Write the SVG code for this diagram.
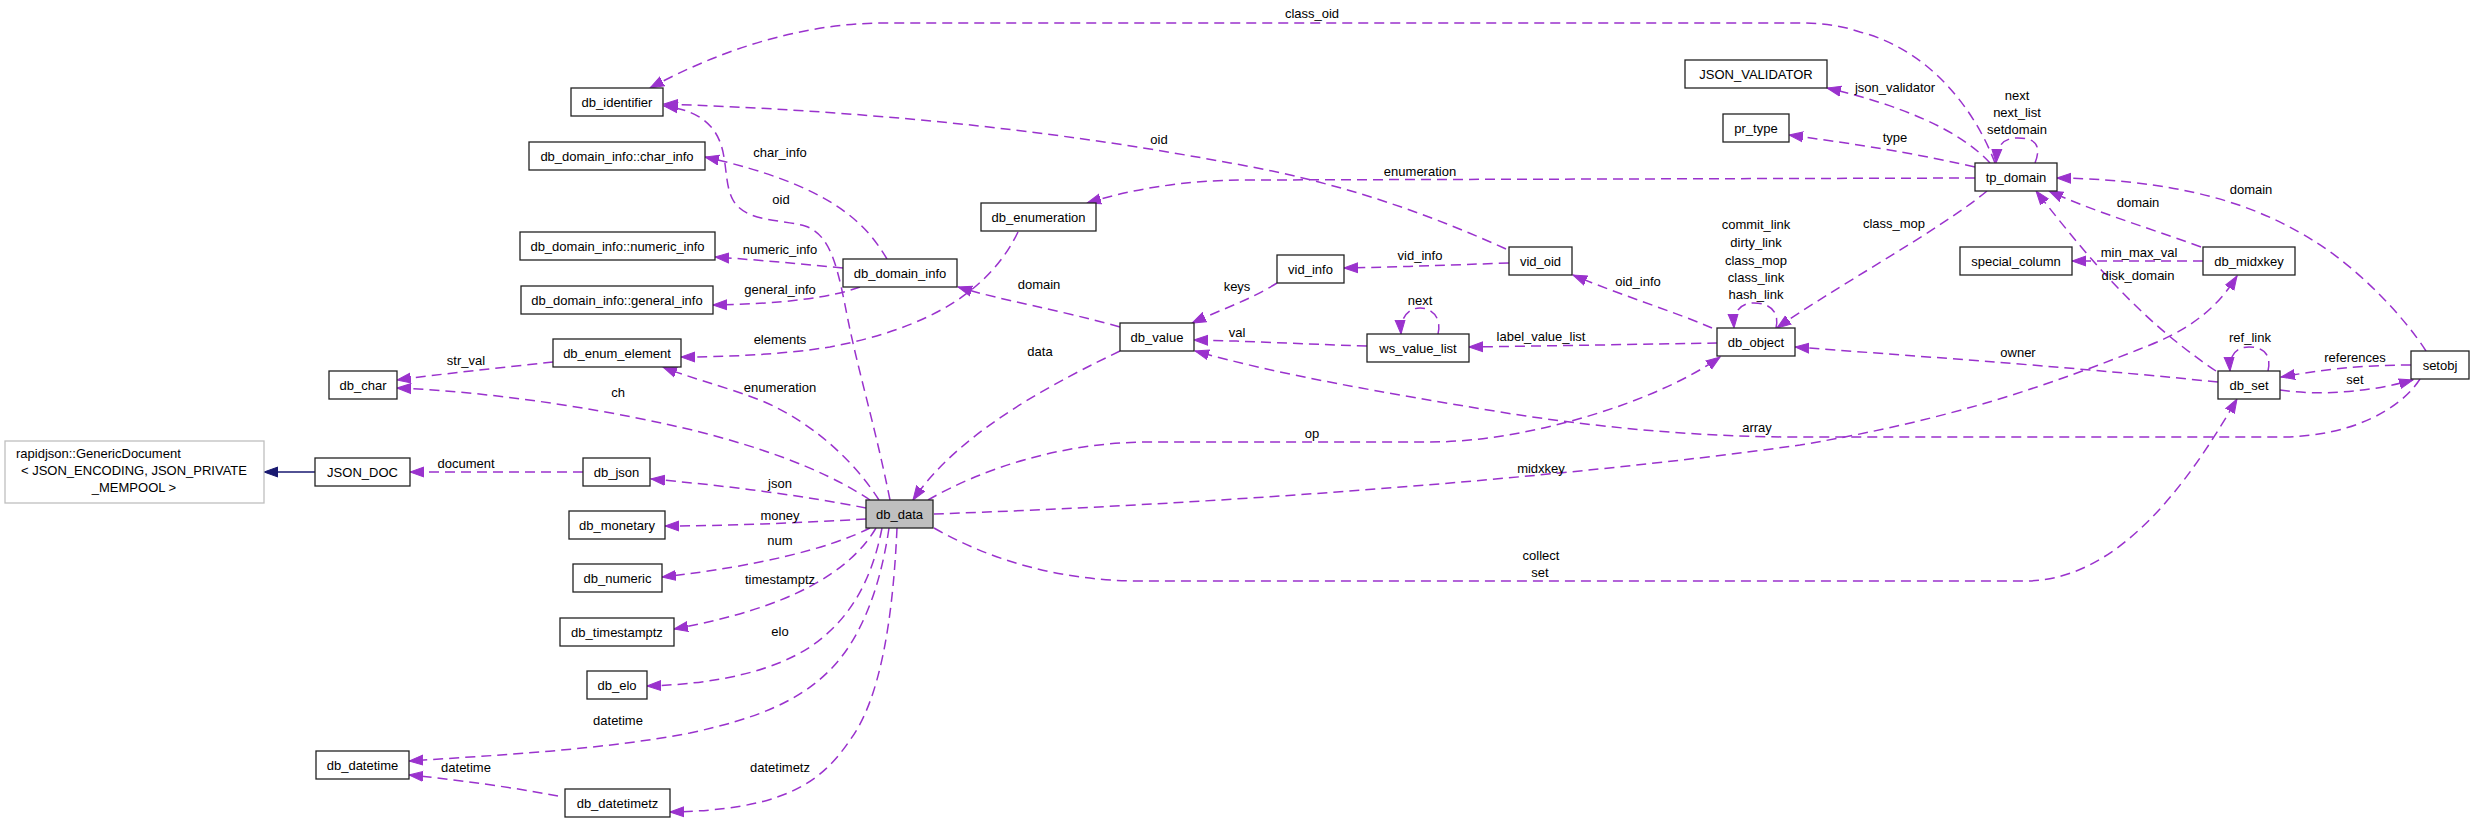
<svg xmlns="http://www.w3.org/2000/svg" width="2475" height="824" viewBox="0 0 2475 824">
<defs>
<style>
.n rect{fill:#fff;stroke:#222;stroke-width:1.3}
.n text,.l{font-family:"Liberation Sans",Arial,Helvetica,sans-serif;font-size:13px;fill:#000;text-anchor:middle}
.e path{fill:none;stroke:#9a32cd;stroke-width:1.5;stroke-dasharray:10,6;marker-end:url(#a)}
.e path.inh{stroke:#191970;stroke-dasharray:none;marker-end:url(#b)}
</style>
<marker id="a" markerWidth="15" markerHeight="12" refX="14" refY="6" orient="auto" markerUnits="userSpaceOnUse"><path d="M0,1 L14,6 L0,11 z" fill="#9a32cd" stroke="#9a32cd" stroke-width="1"/></marker>
<marker id="b" markerWidth="15" markerHeight="12" refX="14" refY="6" orient="auto" markerUnits="userSpaceOnUse"><path d="M0,1 L14,6 L0,11 z" fill="#191970" stroke="#191970" stroke-width="1"/></marker>
</defs>
<rect width="2475" height="824" fill="#fff"/>
<g id="connectors" class="e">
<path d="M1995,163 C1975,110 1930,50 1860,32 C1840,25 1820,23 1800,23 L880,23 C800,24 720,50 650,88"/>
<path d="M890,500 C876,430 858,370 848,320 C838,270 832,235 805,226 C780,219 745,222 733,200 C722,180 730,150 712,128 C700,114 685,109 664,106"/>
<path d="M1506,249 C1420,210 1330,180 1230,163 C1080,135 900,112 664,104"/>
<path d="M887,259 C865,222 830,185 705,157"/>
<path d="M843,268 C800,264 760,260 715,257"/>
<path d="M860,287 C830,298 780,304 713,305"/>
<path d="M1018,232 C990,290 930,328 830,347 C780,355 720,357 681,357"/>
<path d="M879,500 C860,470 820,425 760,400 C720,385 690,378 663,367"/>
<path d="M553,362 C500,368 440,374 397,380"/>
<path d="M870,500 C840,480 790,455 700,432 C620,412 500,392 397,388"/>
<path d="M583,472 L410,472"/>
<path class="inh" d="M315,472 L264,472"/>
<path d="M866,508 C800,495 720,485 651,479"/>
<path d="M866,519 C800,523 720,526 665,526"/>
<path d="M870,528 C830,548 760,566 662,577"/>
<path d="M876,528 C850,572 790,608 674,629"/>
<path d="M882,528 C872,580 850,620 810,647 C775,670 720,684 647,686"/>
<path d="M889,528 C880,590 860,640 830,670 C800,700 760,718 690,733 C600,750 500,755 409,761"/>
<path d="M558,796 C510,787 460,780 409,775"/>
<path d="M897,528 C893,620 880,700 850,740 C820,785 780,810 670,812"/>
<path d="M1120,327 C1060,310 1000,300 958,287"/>
<path d="M1120,351 C1060,380 960,430 913,500"/>
<path d="M1277,283 C1250,300 1220,310 1192,323"/>
<path d="M1509,263 C1450,265 1400,267 1344,268"/>
<path d="M1438,334 C1442,318 1432,308 1420,308 C1408,308 1400,318 1401,334"/>
<path d="M1367,346 C1300,344 1250,341 1194,340"/>
<path d="M1717,343 C1650,344 1550,346 1469,347"/>
<path d="M1712,328 C1670,310 1620,295 1573,275"/>
<path d="M1975,178 L1250,180 C1180,180 1130,190 1087,203"/>
<path d="M1990,163 C1960,130 1900,105 1827,88"/>
<path d="M1975,167 C1900,150 1840,142 1789,135"/>
<path d="M2035,163 C2042,145 2035,138 2018,138 C2003,138 1997,145 1996,163"/>
<path d="M1987,191 C1940,230 1830,290 1777,328"/>
<path d="M1776,328 C1780,310 1768,303 1754,303 C1740,303 1733,312 1734,328"/>
<path d="M2203,261 L2072,261"/>
<path d="M2201,247 C2140,225 2090,210 2049,191"/>
<path d="M2216,371 C2140,320 2090,260 2036,191"/>
<path d="M2426,351 C2405,318 2360,270 2317,243 C2270,213 2200,180 2057,178"/>
<path d="M2268,371 C2272,353 2262,347 2249,347 C2236,347 2229,355 2230,371"/>
<path d="M2411,365 C2360,365 2320,370 2281,377"/>
<path d="M2280,390 C2320,396 2370,392 2413,380"/>
<path d="M2218,382 C2050,365 1900,355 1795,347"/>
<path d="M928,500 C980,470 1060,442 1150,442 L1430,442 C1530,442 1660,400 1720,357"/>
<path d="M934,514 C1200,505 1550,480 1800,445 C1950,420 2050,385 2150,345 C2200,325 2222,300 2237,276"/>
<path d="M2420,379 C2400,410 2350,437 2280,437 L1800,437 C1700,437 1600,428 1500,412 C1380,392 1280,375 1195,351"/>
<path d="M934,528 C990,560 1060,581 1140,581 L2025,581 C2120,581 2190,480 2237,399"/>
</g>
<g id="labels">
<text class="l" x="1312" y="18">class_oid</text>
<text class="l" x="781" y="204">oid</text>
<text class="l" x="1159" y="144">oid</text>
<text class="l" x="780" y="157">char_info</text>
<text class="l" x="780" y="254">numeric_info</text>
<text class="l" x="780" y="294">general_info</text>
<text class="l" x="780" y="344">elements</text>
<text class="l" x="780" y="392">enumeration</text>
<text class="l" x="1420" y="176">enumeration</text>
<text class="l" x="466" y="365">str_val</text>
<text class="l" x="618" y="397">ch</text>
<text class="l" x="466" y="468">document</text>
<text class="l" x="780" y="488">json</text>
<text class="l" x="780" y="520">money</text>
<text class="l" x="780" y="545">num</text>
<text class="l" x="780" y="584">timestamptz</text>
<text class="l" x="780" y="636">elo</text>
<text class="l" x="618" y="725">datetime</text>
<text class="l" x="466" y="772">datetime</text>
<text class="l" x="780" y="772">datetimetz</text>
<text class="l" x="1039" y="289">domain</text>
<text class="l" x="1040" y="356">data</text>
<text class="l" x="1237" y="291">keys</text>
<text class="l" x="1420" y="260">vid_info</text>
<text class="l" x="1420" y="305">next</text>
<text class="l" x="1237" y="337">val</text>
<text class="l" x="1541" y="341">label_value_list</text>
<text class="l" x="1638" y="286">oid_info</text>
<text class="l" x="1895" y="92">json_validator</text>
<text class="l" x="2017" y="100">next</text>
<text class="l" x="2017" y="117">next_list</text>
<text class="l" x="2017" y="134">setdomain</text>
<text class="l" x="1895" y="142">type</text>
<text class="l" x="2251" y="194">domain</text>
<text class="l" x="2138" y="207">domain</text>
<text class="l" x="1894" y="228">class_mop</text>
<text class="l" x="1756" y="229">commit_link</text>
<text class="l" x="1756" y="247">dirty_link</text>
<text class="l" x="1756" y="265">class_mop</text>
<text class="l" x="1756" y="282">class_link</text>
<text class="l" x="1756" y="299">hash_link</text>
<text class="l" x="2139" y="257">min_max_val</text>
<text class="l" x="2138" y="280">disk_domain</text>
<text class="l" x="2018" y="357">owner</text>
<text class="l" x="2250" y="342">ref_link</text>
<text class="l" x="2355" y="362">references</text>
<text class="l" x="2355" y="384">set</text>
<text class="l" x="1312" y="438">op</text>
<text class="l" x="1541" y="473">midxkey</text>
<text class="l" x="1541" y="560">collect</text>
<text class="l" x="1540" y="577">set</text>
<text class="l" x="1757" y="432">array</text>
</g>
<g id="db_identifier" class="n"><rect x="571" y="88" width="92" height="28"/><text x="617" y="106.5">db_identifier</text></g>
<g id="char_info" class="n"><rect x="529" y="142" width="176" height="28"/><text x="617" y="160.5">db_domain_info::char_info</text></g>
<g id="numeric_info" class="n"><rect x="520" y="232" width="195" height="28"/><text x="617.5" y="250.5">db_domain_info::numeric_info</text></g>
<g id="general_info" class="n"><rect x="521" y="286" width="192" height="28"/><text x="617" y="304.5">db_domain_info::general_info</text></g>
<g id="db_enum_element" class="n"><rect x="553" y="339" width="128" height="28"/><text x="617" y="357.5">db_enum_element</text></g>
<g id="db_char" class="n"><rect x="329" y="371" width="68" height="28"/><text x="363" y="389.5">db_char</text></g>
<g id="rapidjson" class="n"><rect x="5" y="441" width="259" height="62" style="stroke:#bfbfbf"/><text x="16" y="458" style="text-anchor:start">rapidjson::GenericDocument</text><text x="134" y="475">&lt; JSON_ENCODING, JSON_PRIVATE</text><text x="134" y="492">_MEMPOOL &gt;</text></g>
<g id="JSON_DOC" class="n"><rect x="315" y="458" width="95" height="28"/><text x="362.5" y="476.5">JSON_DOC</text></g>
<g id="db_json" class="n"><rect x="583" y="458" width="67" height="28"/><text x="616.5" y="476.5">db_json</text></g>
<g id="db_monetary" class="n"><rect x="569" y="511" width="96" height="28"/><text x="617" y="529.5">db_monetary</text></g>
<g id="db_numeric" class="n"><rect x="573" y="564" width="89" height="28"/><text x="617.5" y="582.5">db_numeric</text></g>
<g id="db_timestamptz" class="n"><rect x="560" y="618" width="114" height="28"/><text x="617" y="636.5">db_timestamptz</text></g>
<g id="db_elo" class="n"><rect x="587" y="671" width="60" height="28"/><text x="617" y="689.5">db_elo</text></g>
<g id="db_datetime" class="n"><rect x="316" y="751" width="93" height="28"/><text x="362.5" y="769.5">db_datetime</text></g>
<g id="db_datetimetz" class="n"><rect x="565" y="789" width="105" height="28"/><text x="617.5" y="807.5">db_datetimetz</text></g>
<g id="db_data" class="n"><rect x="866" y="500" width="67" height="28" style="fill:#bfbfbf"/><text x="899.5" y="518.5">db_data</text></g>
<g id="db_enumeration" class="n"><rect x="981" y="203" width="115" height="28"/><text x="1038.5" y="221.5">db_enumeration</text></g>
<g id="db_domain_info" class="n"><rect x="843" y="259" width="114" height="28"/><text x="900" y="277.5">db_domain_info</text></g>
<g id="db_value" class="n"><rect x="1120" y="323" width="74" height="28"/><text x="1157" y="341.5">db_value</text></g>
<g id="vid_info" class="n"><rect x="1277" y="255" width="67" height="28"/><text x="1310.5" y="273.5">vid_info</text></g>
<g id="vid_oid" class="n"><rect x="1509" y="247" width="63" height="28"/><text x="1540.5" y="265.5">vid_oid</text></g>
<g id="ws_value_list" class="n"><rect x="1367" y="334" width="102" height="28"/><text x="1418" y="352.5">ws_value_list</text></g>
<g id="db_object" class="n"><rect x="1717" y="328" width="78" height="28"/><text x="1756" y="346.5">db_object</text></g>
<g id="JSON_VALIDATOR" class="n"><rect x="1685" y="60" width="142" height="28"/><text x="1756" y="78.5">JSON_VALIDATOR</text></g>
<g id="pr_type" class="n"><rect x="1723" y="114" width="66" height="28"/><text x="1756" y="132.5">pr_type</text></g>
<g id="tp_domain" class="n"><rect x="1975" y="163" width="82" height="28"/><text x="2016" y="181.5">tp_domain</text></g>
<g id="special_column" class="n"><rect x="1960" y="247" width="112" height="28"/><text x="2016" y="265.5">special_column</text></g>
<g id="db_midxkey" class="n"><rect x="2203" y="247" width="92" height="28"/><text x="2249" y="265.5">db_midxkey</text></g>
<g id="db_set" class="n"><rect x="2218" y="371" width="62" height="28"/><text x="2249" y="389.5">db_set</text></g>
<g id="setobj" class="n"><rect x="2411" y="351" width="58" height="28"/><text x="2440" y="369.5">setobj</text></g>
</svg>
